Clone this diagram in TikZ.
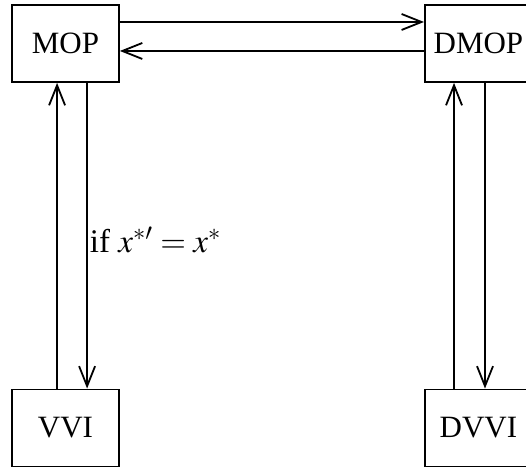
\documentclass[tikz,border=0pt]{standalone}
\usepackage{mathptmx}
\usepackage[no-math]{fontspec}
\setmainfont{Liberation Serif}
\usetikzlibrary{arrows.meta}
\tikzset{
    blk/.style={draw, line width=.9bp, minimum width=53.5bp, minimum height=38.5bp, inner xsep=4bp,
        font=\fontsize{15.5bp}{18bp}\selectfont},
    arr/.style={line width=.9bp, -{Straight Barb[length=10bp, width=8bp, line width=.9bp]}}
}
\begin{document}
\begin{tikzpicture}
    \useasboundingbox (0, 0) rectangle (9.278, 8.290);
        \node[blk] (mop) at(1.155, 7.523){MOP};
        \node[blk, anchor=west] (dmop) at(7.479, 7.523){DMOP};
        \node[blk] (vvi) at(1.155, 0.741){VVI};
        \node[blk, anchor=west] (dvvi) at(7.479, 0.741){DVVI};

        %%connectors
        \draw[arr]([yshift=10.75bp]mop.east) to ([yshift=10.75bp]dmop.west);
        \draw[arr]([yshift=-3.75bp]dmop.west) to ([yshift=-3.75bp]mop.east);
        \draw[arr]([xshift=23bp]vvi.north west) to ([xshift=23bp]mop.south west);
        \draw[arr]([xshift=38bp]mop.south west) to
            node[midway, right, inner sep=1bp, yshift=-2bp, font=\fontsize{16.5bp}{19bp}\selectfont]{if $x^{*\prime}=x^*$}
            ([xshift=38bp]vvi.north west);
        \draw[arr]([xshift=15bp]dvvi.north west) to ([xshift=15bp]dmop.south west);
        \draw[arr]([xshift=30.5bp]dmop.south west) to ([xshift=30.5bp]dvvi.north west);
\end{tikzpicture}
\end{document}
